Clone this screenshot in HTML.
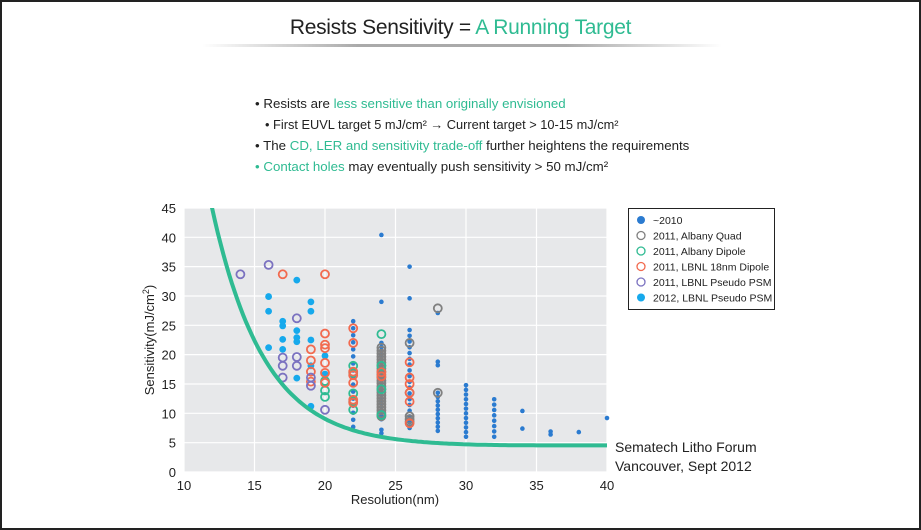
<!DOCTYPE html>
<html><head><meta charset="utf-8"><style>
body{margin:0;background:#fff}
#w{position:relative;width:917px;height:526px;border:2px solid #222;border-top-width:2px;overflow:hidden;font-family:"Liberation Sans",sans-serif}
.t{position:absolute;white-space:nowrap;color:#222}
.g{color:#2fbb92}
</style></head><body><div id="w">
<div class="t" style="left:0;width:917px;text-align:center;top:14px;font-size:21px;letter-spacing:-0.3px">Resists Sensitivity = <span class="g">A Running Target</span></div>
<div style="position:absolute;left:200px;top:42px;width:520px;height:3px;background:linear-gradient(90deg,rgba(180,180,180,0),#aaa 30%,#aaa 70%,rgba(180,180,180,0))"></div>
<div class="t" style="left:253px;top:94px;font-size:13.3px">• Resists are <span class="g">less sensitive than originally envisioned</span></div>
<div class="t" style="left:263px;top:115px;font-size:12.8px">• First EUVL target 5 mJ/cm² → Current target &gt; 10-15 mJ/cm²</div>
<div class="t" style="left:253px;top:136px;font-size:13.3px">• The <span class="g">CD, LER and sensitivity trade-off</span> further heightens the requirements</div>
<div class="t" style="left:253px;top:157px;font-size:13.3px"><span class="g">• Contact holes</span> may eventually push sensitivity &gt; 50 mJ/cm²</div>
<svg id="s" width="917" height="526" style="position:absolute;left:0;top:0" font-family="Liberation Sans, sans-serif"></svg>
<div class="t" style="left:613px;top:436px;font-size:14px;line-height:19px">Sematech Litho Forum<br>Vancouver, Sept 2012</div>
</div>
<script>
var s=document.getElementById('s'),h='';
var X=function(x){return 182+(x-10)*14.1},Y=function(y){return 470-y*5.867};
h+='<defs><clipPath id="c"><rect x="182" y="206" width="424" height="264"/></clipPath></defs>';
h+='<rect x="182" y="206" width="423" height="264" fill="#e7e8ea"/>';
for(var v=0;v<=45;v+=5){h+='<line x1="182" x2="605" y1="'+Y(v)+'" y2="'+Y(v)+'" stroke="#fff" stroke-width="1.2"/>';h+='<text x="174" y="'+(Y(v)+5)+'" font-size="13" text-anchor="end" fill="#222">'+v+'</text>';}
for(var v=10;v<=40;v+=5){h+='<line y1="206" y2="470" x1="'+X(v)+'" x2="'+X(v)+'" stroke="#fff" stroke-width="1.2"/>';h+='<text y="488" x="'+X(v)+'" font-size="13" text-anchor="middle" fill="#222">'+v+'</text>';}
h+='<text x="393" y="502" font-size="13" text-anchor="middle" fill="#222">Resolution(nm)</text>';
h+='<text transform="translate(152,338) rotate(-90)" font-size="13" text-anchor="middle" fill="#222">Sensitivity(mJ/cm<tspan font-size="9" dy="-5">2</tspan><tspan dy="5">)</tspan></text>';
var C={d:'#2b7bd0',l:'#16a9ec',o:'#f26a4f',p:'#7b72c0',g:'#808080',e:'#2fbb92'};
function f(c,x,y,r){h+='<circle cx="'+X(x)+'" cy="'+Y(y)+'" r="'+r+'" fill="'+c+'"/>';}
function o(c,x,y){h+='<circle cx="'+X(x)+'" cy="'+Y(y)+'" r="4" fill="none" stroke="'+c+'" stroke-width="1.8"/>';}
function col(x,a,b,n){for(var i=0;i<n;i++)f(C.d,x,a+(b-a)*i/(n-1),2.3);}
col(22,7.7,25.7,16);col(24,9,22,20);f(C.d,24,40.4,2.3);f(C.d,24,29,2.3);f(C.d,24,7.2,2.3);f(C.d,24,6.6,2.3);
col(26,7.5,24.2,18);f(C.d,26,35,2.3);f(C.d,26,29.6,2.3);f(C.d,28,27.1,2.3);f(C.d,28,18.8,2.3);f(C.d,28,18.2,2.3);col(28,7,13.5,10);
col(30,6,14.8,12);col(32,6,12.4,8);f(C.d,34,10.4,2.3);f(C.d,34,7.4,2.3);f(C.d,36,6.9,2.3);f(C.d,36,6.4,2.3);f(C.d,38,6.8,2.3);f(C.d,40,9.2,2.3);
[[16,29.9],[16,27.4],[16,21.2],[17,25.7],[17,24.9],[17,22.6],[17,20.9],[18,32.7],[18,24.1],[18,22.9],[18,22.2],[18,16],[19,29],[19,27.4],[19,22.5],[19,18.1],[19,11.2],[20,19.8],[20,16.7]].forEach(function(p){f(C.l,p[0],p[1],3.4)});
for(var i=0;i<24;i++)o(C.g,24,9.5+i*11.7/23);[[26,22],[26,13.5],[26,9.5],[26,9],[26,8.6],[28,27.9],[28,13.5]].forEach(function(p){o(C.g,p[0],p[1])});
[[20,15.5],[20,13.9],[20,12.8],[22,18.1],[22,16.9],[22,13.4],[22,10.6],[22,12],[24,23.5],[24,18.1],[24,14.1],[24,9.7]].forEach(function(p){o(C.e,p[0],p[1])});
[[17,33.7],[20,33.7],[19,20.9],[19,19],[19,17.1],[19,15.4],[20,23.6],[20,21.7],[20,21.1],[20,18.6],[20,16.9],[20,15.2],[22,24.5],[22,22],[22,17.1],[22,16.5],[22,15.2],[22,12.3],[22,11.8],[24,17],[24,16.3],[26,18.7],[26,16.1],[26,15],[26,13.5],[26,12],[26,8.3]].forEach(function(p){o(C.o,p[0],p[1])});
[[14,33.7],[16,35.3],[18,26.2],[17,19.5],[17,18.1],[17,16.1],[18,19.6],[18,18.1],[19,16.1],[19,14.7],[20,10.6]].forEach(function(p){o(C.p,p[0],p[1])});
var d='';for(var x=11.6;x<=40.05;x+=0.2){var y=4.4+40.5*Math.exp(-(x-12)/3.7)+0.012*Math.max(0,x-30);d+=(d?'L':'M')+X(x).toFixed(1)+' '+Y(y).toFixed(1);}
h+='<path clip-path="url(#c)" d="'+d+'" fill="none" stroke="#2fbb92" stroke-width="4"/>';
h+='<rect x="626.5" y="206.5" width="146" height="101" fill="#fff" stroke="#222"/>';
var L=[['~2010',C.d,1],['2011, Albany Quad',C.g,0],['2011, Albany Dipole',C.e,0],['2011, LBNL 18nm Dipole',C.o,0],['2011, LBNL Pseudo PSM',C.p,0],['2012, LBNL Pseudo PSM',C.l,1]];
L.forEach(function(l,i){var y=218+i*15.5;h+=l[2]?'<circle cx="639" cy="'+y+'" r="4" fill="'+l[1]+'"/>':'<circle cx="639" cy="'+y+'" r="4" fill="none" stroke="'+l[1]+'" stroke-width="1.3"/>';h+='<text x="651" y="'+(y+4)+'" font-size="10.5" fill="#222">'+l[0]+'</text>';});
s.innerHTML=h;
</script></body></html>
